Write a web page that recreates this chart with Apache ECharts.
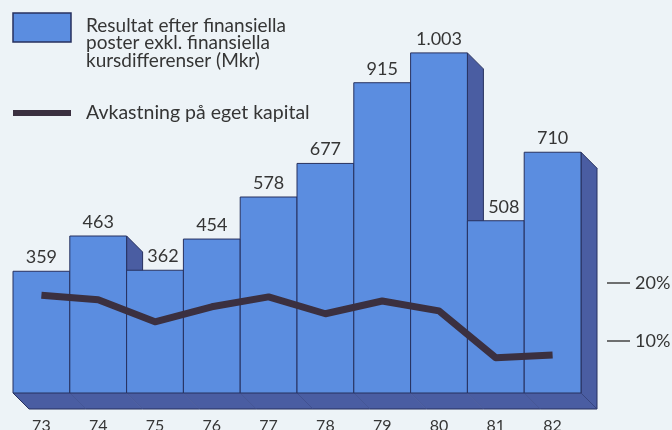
<!DOCTYPE html>
<html>
<head>
<meta charset="utf-8">
<script src="https://cdn.jsdelivr.net/npm/echarts@6/dist/echarts.min.js"></script>
<style>
  html, body { margin: 0; padding: 0; background: #edf3f7; }
  #chart { width: 672px; height: 430px; }
</style>
</head>
<body>
<div id="chart"></div>
<script>
// years on the x axis
const years = ['73', '74', '75', '76', '77', '78', '79', '80', '81', '82']
// Resultat efter finansiella poster (Mkr)
const resultValues = [359, 463, 362, 454, 578, 677, 915, 1003, 508, 710]
// Avkastning på eget kapital (%)
const returnValues = [17.9, 17.1, 13.3, 15.9, 17.6, 14.7, 16.9, 15.2, 7.1, 7.6]
// right axis ticks
const percentTicks = [10, 20]

const FRONT = '#5b8de0'
const SIDE = '#4a5da2'
const EDGE = '#27315f'
const TEXT = '#353535'
const DEPTH = 16

const chart = echarts.init(document.getElementById('chart'))

// Swedish style thousands separator: 1003 -> 1.003
function fmt(v) {
  if (v < 1000) return String(v)
  return Math.floor(v / 1000) + '.' + String(v % 1000).padStart(3, '0')
}

// front face, right side and bottom of a pseudo 3D bar plus its value label
function renderBar(params, api) {
  const i = api.value(0)
  const v = api.value(1)
  const top = api.coord([i, v])
  const base = api.coord([i, 0])
  const w = api.size([1, 0])[0]
  const x0 = top[0] - w / 2
  const x1 = top[0] + w / 2
  const prev = i > 0 ? resultValues[i - 1] : 0
  // nudge label right when the previous bar's side face is in the way
  const shift = prev > v ? DEPTH / 2 : 0

  const children = [
    {
      type: 'polygon',
      shape: { points: [[x1, top[1]], [x1 + DEPTH, top[1] + DEPTH], [x1 + DEPTH, base[1] + DEPTH], [x1, base[1]]] },
      style: { fill: SIDE, stroke: EDGE, lineWidth: 1 }
    },
    // bottom slab, no dividers so it reads as one band
    {
      type: 'polygon',
      shape: { points: [[x0, base[1]], [x1, base[1]], [x1 + DEPTH, base[1] + DEPTH], [x0 + DEPTH, base[1] + DEPTH]] },
      style: { fill: SIDE }
    },
    {
      type: 'line',
      shape: { x1: x0 + DEPTH, y1: base[1] + DEPTH, x2: x1 + DEPTH, y2: base[1] + DEPTH },
      style: { stroke: EDGE, lineWidth: 1 }
    },
    {
      type: 'rect',
      shape: { x: x0, y: top[1], width: w, height: base[1] - top[1] },
      style: { fill: FRONT, stroke: EDGE, lineWidth: 1 }
    },
    {
      type: 'text',
      x: top[0] + shift,
      y: top[1] - 14,
      style: {
        text: fmt(v),
        align: 'center',
        verticalAlign: 'middle',
        fontFamily: 'Lato',
        fontSize: 18,
        fill: TEXT
      }
    }
  ]
  if (i === 0) {
    children.push({
      type: 'line',
      shape: { x1: x0, y1: base[1], x2: x0 + DEPTH, y2: base[1] + DEPTH },
      style: { stroke: EDGE, lineWidth: 1 }
    })
  }
  return { type: 'group', children: children }
}

const options = {
  backgroundColor: '#edf3f7',
  animation: false,
  grid: { left: 13, right: 91, top: 20, bottom: 37, outerBoundsMode: 'none', containLabel: false },
  xAxis: {
    type: 'category',
    data: years,
    boundaryGap: true,
    axisLine: { show: false },
    axisTick: { show: false },
    axisLabel: { margin: 25, fontFamily: 'Lato', fontSize: 16, color: TEXT }
  },
  yAxis: [
    {
      type: 'value',
      min: 0,
      max: 1100,
      show: false
    },
    {
      type: 'value',
      position: 'right',
      min: 1.034,
      max: 65.34,
      offset: 26,
      splitLine: { show: false },
      axisLine: { show: false },
      axisTick: {
        show: true,
        inside: false,
        length: 23,
        customValues: percentTicks,
        lineStyle: { color: '#444', width: 1.5 }
      },
      axisLabel: {
        customValues: percentTicks,
        margin: 28,
        formatter: '{value}%',
        fontFamily: 'Lato',
        fontSize: 18,
        color: TEXT
      }
    }
  ],
  graphic: [
    {
      type: 'rect',
      shape: { x: 13, y: 13, width: 58, height: 29 },
      style: { fill: FRONT, stroke: EDGE, lineWidth: 1.5 }
    },
    {
      type: 'text',
      x: 86,
      y: 17,
      style: {
        text: 'Resultat efter finansiella\nposter exkl. finansiella\nkursdifferenser (Mkr)',
        fontFamily: 'Lato',
        fontSize: 19,
        lineHeight: 17.5,
        fill: TEXT
      }
    },
    {
      type: 'rect',
      shape: { x: 13, y: 110, width: 58, height: 6 },
      style: { fill: '#3b3040' }
    },
    {
      type: 'text',
      x: 86,
      y: 113,
      style: {
        text: 'Avkastning på eget kapital',
        fontFamily: 'Lato',
        fontSize: 19.5,
        verticalAlign: 'middle',
        fill: TEXT
      }
    }
  ],
  series: [
    {
      name: 'Resultat',
      type: 'custom',
      renderItem: renderBar,
      data: resultValues.map((v, i) => [i, v]),
      z: 2
    },
    {
      name: 'Avkastning',
      type: 'line',
      yAxisIndex: 1,
      data: returnValues,
      symbol: 'none',
      clip: false,
      lineStyle: { color: '#3b3040', width: 7, cap: 'butt', join: 'round' },
      z: 3
    }
  ]
}

chart.setOption(options)
</script>
</body>
</html>
